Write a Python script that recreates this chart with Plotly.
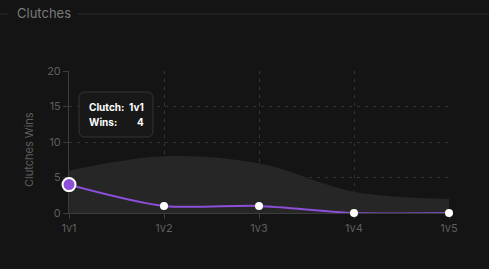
import plotly.graph_objects as go

categories = ["1v1", "1v2", "1v3", "1v4", "1v5"]
wins = [4, 1, 1, 0, 0]
average = [6, 8, 7, 3, 2]
y_ticks = [0, 5, 10, 15, 20]

W, H = 489, 269
L, R, T, B = 69, 40, 71, 56
PW, PH = W - L - R, H - T - B

def px(x):
    return (x - L) / PW

def py(y):
    return (H - B - y) / PH

BG = "#141414"
PURPLE = "#8b4fd8"
TICK = "#5e5e5e"
GRID = "#333333"
FONT = "Inter"

fig = go.Figure()
fig.add_trace(go.Scatter(
    x=categories, y=average, mode="lines", fill="tozeroy",
    line=dict(width=0, shape="spline", smoothing=1.0),
    fillcolor="#262626", hoverinfo="skip", showlegend=False,
))
fig.add_trace(go.Scatter(
    x=categories, y=wins, mode="lines",
    line=dict(color=PURPLE, width=2, shape="spline", smoothing=0.8),
    hoverinfo="skip", showlegend=False, cliponaxis=False,
))
fig.add_trace(go.Scatter(
    x=categories[1:], y=wins[1:], mode="markers",
    marker=dict(size=8, color="#ffffff", opacity=1, line=dict(width=0)),
    cliponaxis=False, showlegend=False,
))
fig.add_trace(go.Scatter(
    x=categories[:1], y=wins[:1], mode="markers",
    marker=dict(size=13, color=PURPLE, opacity=1, line=dict(color="#ffffff", width=2)),
    cliponaxis=False, showlegend=False,
))

axis_common = dict(
    showgrid=True, gridcolor=GRID, griddash="3px,5px", gridwidth=1,
    showline=True, linecolor="#3c3c3c", linewidth=1,
    ticks="outside", ticklen=5, tickcolor="#3c3c3c",
    tickfont=dict(size=11, color=TICK), zeroline=False,
    layer="below traces",
)

fig.update_layout(
    width=W, height=H,
    margin=dict(l=L, r=R, t=T, b=B),
    paper_bgcolor=BG, plot_bgcolor=BG,
    font=dict(family=FONT, color=TICK, size=11),
    xaxis=dict(type="category", range=[0, len(categories) - 1], **axis_common),
    yaxis=dict(range=[0, 20], tickvals=y_ticks, **axis_common),
    shapes=[
        dict(type="line", xref="paper", yref="paper", x0=px(0), x1=px(8), y0=py(14), y1=py(14),
             line=dict(color="#2a2a2a", width=1)),
        dict(type="line", xref="paper", yref="paper", x0=px(78), x1=px(489), y0=py(14), y1=py(14),
             line=dict(color="#2a2a2a", width=1)),
        dict(type="path", xref="paper", yref="paper",
             path=(f"M {px(85)},{py(92)} L {px(147)},{py(92)} Q {px(153)},{py(92)} {px(153)},{py(98)} "
                   f"L {px(153)},{py(131)} Q {px(153)},{py(137)} {px(147)},{py(137)} "
                   f"L {px(85)},{py(137)} Q {px(79)},{py(137)} {px(79)},{py(131)} "
                   f"L {px(79)},{py(98)} Q {px(79)},{py(92)} {px(85)},{py(92)} Z"),
             fillcolor="#181818", line=dict(color="#333333", width=1), layer="above"),
    ],
    annotations=[
        dict(text="Clutches", xref="paper", yref="paper", x=px(15), y=py(13), xanchor="left",
             yanchor="middle", showarrow=False, font=dict(size=13, color="#7a7a7a", family=FONT)),
        dict(text="Clutches Wins", xref="paper", yref="paper", x=px(29), y=py(150), textangle=-90,
             xanchor="center", yanchor="middle", showarrow=False, font=dict(size=11, color=TICK)),
        dict(text="<b>Clutch:</b>", xref="paper", yref="paper", x=px(87), y=py(107), xanchor="left",
             yanchor="middle", showarrow=False, font=dict(size=10, color="#ffffff")),
        dict(text=f"<b>{categories[0]}</b>", xref="paper", yref="paper", x=px(146), y=py(107),
             xanchor="right", yanchor="middle", showarrow=False, font=dict(size=10, color="#ffffff")),
        dict(text="<b>Wins:</b>", xref="paper", yref="paper", x=px(87), y=py(122), xanchor="left",
             yanchor="middle", showarrow=False, font=dict(size=10, color="#ffffff")),
        dict(text=f"<b>{wins[0]}</b>", xref="paper", yref="paper", x=px(146), y=py(122),
             xanchor="right", yanchor="middle", showarrow=False, font=dict(size=10, color="#ffffff")),
    ],
)

fig.write_html("out.html")
